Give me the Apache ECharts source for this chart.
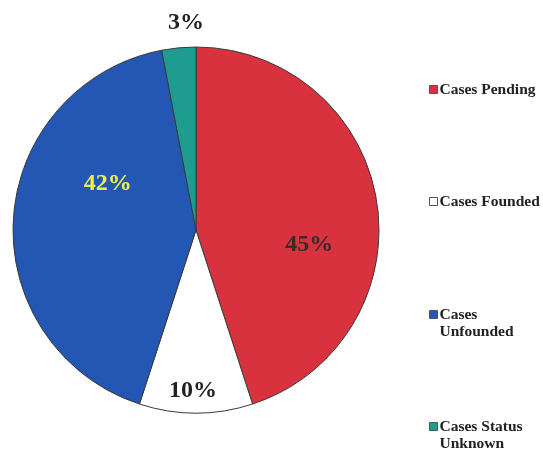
<!DOCTYPE html>
<html>
<head>
<meta charset="utf-8">
<script src="https://cdn.jsdelivr.net/npm/echarts@6/dist/echarts.min.js"></script>
<style>
  html, body { margin: 0; padding: 0; background: #fff; }
  #main { width: 543px; height: 453px; }
</style>
</head>
<body>
<div id="main"></div>
<script>
// data
var categories = ['Cases Pending', 'Cases Founded', 'Cases Unfounded', 'Cases Status Unknown'];
var legendNames = ['Cases Pending', 'Cases Founded', 'Cases\nUnfounded', 'Cases Status\nUnknown'];
var values = [45, 10, 42, 3];

var colors = ['#d8323f', '#ffffff', '#2457b3', '#1f9c90'];
var labelColors = ['#3a2a2a', '#222', '#f2ef4a', '#222'];
// nudges from the 'inside' spot to where the picture puts each label
var labelNudge = [[20, 30], [-3, 66], [6, -40], [-1, -113]];
var legendTops = [76, 188, 284, 396];

var serif = '"Liberation Serif", "DejaVu Serif", serif';

var pieData = categories.map(function (name, i) {
  return {
    name: legendNames[i],
    value: values[i],
    itemStyle: { color: colors[i] },
    label: { color: labelColors[i] }
  };
});

var legends = legendNames.map(function (name, i) {
  return {
    orient: 'vertical',
    left: 424,
    top: legendTops[i],
    itemWidth: 8,
    itemHeight: 8,
    icon: 'rect',
    selectedMode: false,
    data: [{ name: name, itemStyle: { borderColor: '#555', borderWidth: 1 } }],
    // two-line names: blank line on top so the icon sits beside the first line
    formatter: function (n) {
      return n.indexOf('\n') >= 0 ? '\n' + n : n;
    },
    textStyle: {
      fontFamily: serif,
      fontWeight: 'bold',
      fontSize: 15.5,
      color: '#222',
      lineHeight: 17,
      padding: [0, 0, 0, -3]
    }
  };
});

var option = {
  backgroundColor: '#fff',
  animation: false,
  legend: legends,
  series: [
    {
      type: 'pie',
      center: [196, 230],
      radius: 183,
      startAngle: 90,
      clockwise: true,
      data: pieData,
      itemStyle: { borderColor: '#3a3a3a', borderWidth: 1 },
      label: {
        show: true,
        position: 'inside',
        formatter: '{c}%',
        fontFamily: serif,
        fontWeight: 'bold',
        fontSize: 24
      },
      labelLine: { show: false },
      labelLayout: function (params) {
        var n = labelNudge[params.dataIndex];
        return { dx: n[0], dy: n[1] };
      }
    }
  ]
};

var chart = echarts.init(document.getElementById('main'));
chart.setOption(option);
</script>
</body>
</html>
